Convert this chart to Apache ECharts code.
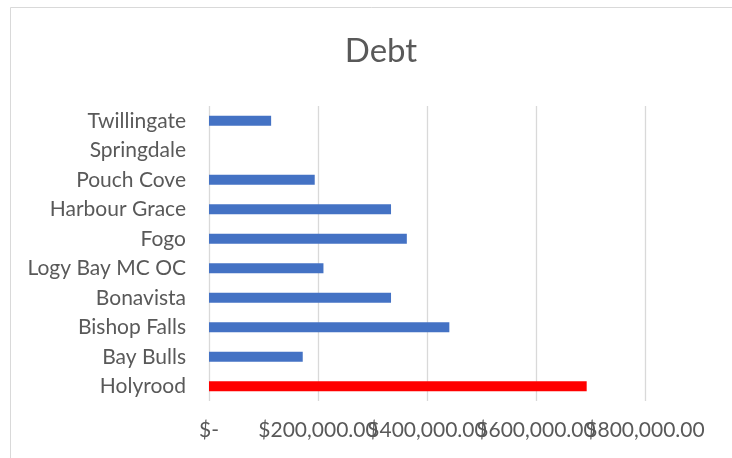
<!DOCTYPE html>
<html>
<head>
<meta charset="utf-8">
<script src="https://cdn.jsdelivr.net/npm/echarts@6/dist/echarts.min.js"></script>
<style>
  html, body { margin: 0; padding: 0; background: #fff; }
  #chart { width: 732px; height: 458px; }
</style>
</head>
<body>
<div id="chart"></div>
<script>
// Towns, listed top to bottom as they appear on the chart
const towns = ['Twillingate', 'Springdale', 'Pouch Cove', 'Harbour Grace', 'Fogo',
               'Logy Bay MC OC', 'Bonavista', 'Bishop Falls', 'Bay Bulls', 'Holyrood'];
// Outstanding debt per town, in dollars (Springdale has none)
const debt = [114000, 0, 194000, 334000, 363000, 210000, 334000, 441000, 172000, 693000];
// Town drawn in the highlight colour
const highlightTown = 'Holyrood';
// Value axis ticks
const tickValues = [0, 200000, 400000, 600000, 800000];

const FONT = 'Lato, "Noto Sans", sans-serif';
const TEXT = '#595959';
const GRID = '#D9D9D9';

function money(v) {
  if (v === 0) return '$-';
  return '$' + v.toLocaleString('en-US', { minimumFractionDigits: 2, maximumFractionDigits: 2 });
}

// The currency labels are wider than the tick spacing, so alternate ticks are
// labelled by two identical value axes to keep every label on screen.
function valueAxis(parity, withGrid) {
  return {
    type: 'value',
    position: 'bottom',
    min: tickValues[0],
    max: tickValues[tickValues.length - 1],
    interval: tickValues[1] - tickValues[0],
    axisLine: { show: false },
    axisTick: { show: false },
    splitLine: { show: withGrid, lineStyle: { color: GRID, width: 1.3 } },
    axisLabel: {
      margin: 19,
      formatter: v => (tickValues.indexOf(v) % 2 === parity ? money(v) : ''),
      showMinLabel: true,
      showMaxLabel: true,
      hideOverlap: false,
      fontFamily: FONT, fontSize: 21, color: TEXT
    }
  };
}

const chart = echarts.init(document.getElementById('chart'), null, { renderer: 'canvas' });
chart.setOption({
  animation: false,
  backgroundColor: '#fff',
  title: {
    text: 'Debt',
    left: 376,
    textAlign: 'center',
    top: 30,
    textStyle: { fontFamily: FONT, fontSize: 33, fontWeight: 'normal', color: TEXT }
  },
  graphic: [{
    type: 'rect',
    shape: { x: 10.5, y: 7.5, width: 800, height: 500 },
    style: { fill: 'none', stroke: GRID, lineWidth: 1 },
    silent: true
  }],
  grid: { left: 209, right: 87, top: 106, bottom: 57, containLabel: false },
  xAxis: [valueAxis(0, true), valueAxis(1, false)],
  yAxis: {
    type: 'category',
    inverse: true,
    data: towns,
    axisLine: { show: false },
    axisTick: { show: false },
    axisLabel: { margin: 23, fontFamily: FONT, fontSize: 21, color: TEXT }
  },
  series: [{
    type: 'bar',
    xAxisIndex: 0,
    barWidth: 10,
    data: towns.map((t, i) => ({
      value: debt[i],
      itemStyle: { color: t === highlightTown ? '#FF0000' : '#4472C4' }
    }))
  }]
});
</script>
</body>
</html>
